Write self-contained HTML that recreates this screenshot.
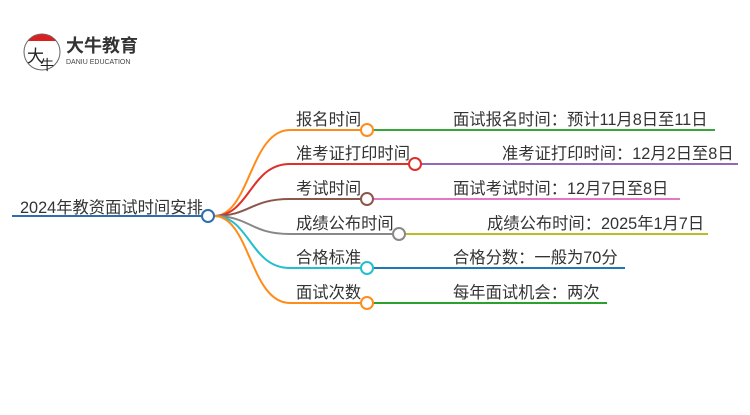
<!DOCTYPE html>
<html><head><meta charset="utf-8"><style>
body{margin:0;width:750px;height:410px;background:#fff;overflow:hidden}
svg text{font-family:"Liberation Sans","Noto Sans CJK SC",sans-serif;font-size:16.3px;fill:#333}
</style></head><body>
<svg width="750" height="410" viewBox="0 0 750 410" xmlns="http://www.w3.org/2000/svg">
<!-- logo -->
<circle cx="42" cy="52" r="18" fill="none" stroke="#666" stroke-width="1"/>
<path d="M28 41 A18 18 0 0 1 56 41 Z" fill="#d92020"/>
<text x="27" y="62" style="font-size:17px;fill:#222">大</text>
<text x="40" y="70" style="font-size:14px;fill:#222">牛</text>
<text x="66" y="52" style="font-size:18px;font-weight:bold;fill:#333">大牛教育</text>
<text x="66" y="64" style="font-size:7px;fill:#444">DANIU EDUCATION</text>

<g fill="none" stroke-width="2">
<line x1="12" y1="216" x2="202" y2="216" stroke="#2a6fb0"/>
<path d="M214 216 C250 216 250 130 290 130 L361 130" stroke="#ff8c1a"/>
<path d="M214 216 C250 216 250 164 290 164 L409 164" stroke="#e0302a"/>
<path d="M214 216 C250 216 250 199 290 199 L361 199" stroke="#8c564b"/>
<path d="M214 216 C250 216 250 234 290 234 L393 234" stroke="#888"/>
<path d="M214 216 C250 216 250 268 290 268 L361 268" stroke="#22bfd0"/>
<path d="M214 216 C250 216 250 303 290 303 L361 303" stroke="#ff8c1a"/>
<line x1="373" y1="130" x2="715" y2="130" stroke="#3aa63a"/>
<line x1="421" y1="164" x2="738" y2="164" stroke="#9467bd"/>
<line x1="373" y1="199" x2="680" y2="199" stroke="#e377c2"/>
<line x1="405" y1="234" x2="708" y2="234" stroke="#bcbd22"/>
<line x1="373" y1="268" x2="625" y2="268" stroke="#1f77b4"/>
<line x1="373" y1="303" x2="607" y2="303" stroke="#2ca02c"/>
</g>
<g fill="#fff" stroke-width="2">
<circle cx="208" cy="216" r="6" stroke="#2a6fb0"/>
<circle cx="367" cy="130" r="6" stroke="#ff8c1a"/>
<circle cx="415" cy="164" r="6" stroke="#e0302a"/>
<circle cx="367" cy="199" r="6" stroke="#8c564b"/>
<circle cx="399" cy="234" r="6" stroke="#888"/>
<circle cx="367" cy="268" r="6" stroke="#22bfd0"/>
<circle cx="367" cy="303" r="6" stroke="#ff8c1a"/>
</g>
<text x="20" y="213">2024年教资面试时间安排</text>
<text x="296" y="125">报名时间</text>
<text x="296" y="159">准考证打印时间</text>
<text x="296" y="194">考试时间</text>
<text x="296" y="229">成绩公布时间</text>
<text x="296" y="263">合格标准</text>
<text x="296" y="298">面试次数</text>
<text x="453" y="125">面试报名时间：预计11月8日至11日</text>
<text x="502" y="159">准考证打印时间：12月2日至8日</text>
<text x="453" y="194">面试考试时间：12月7日至8日</text>
<text x="487" y="229">成绩公布时间：2025年1月7日</text>
<text x="453" y="263">合格分数：一般为70分</text>
<text x="453" y="298">每年面试机会：两次</text>
</svg>
</body></html>
